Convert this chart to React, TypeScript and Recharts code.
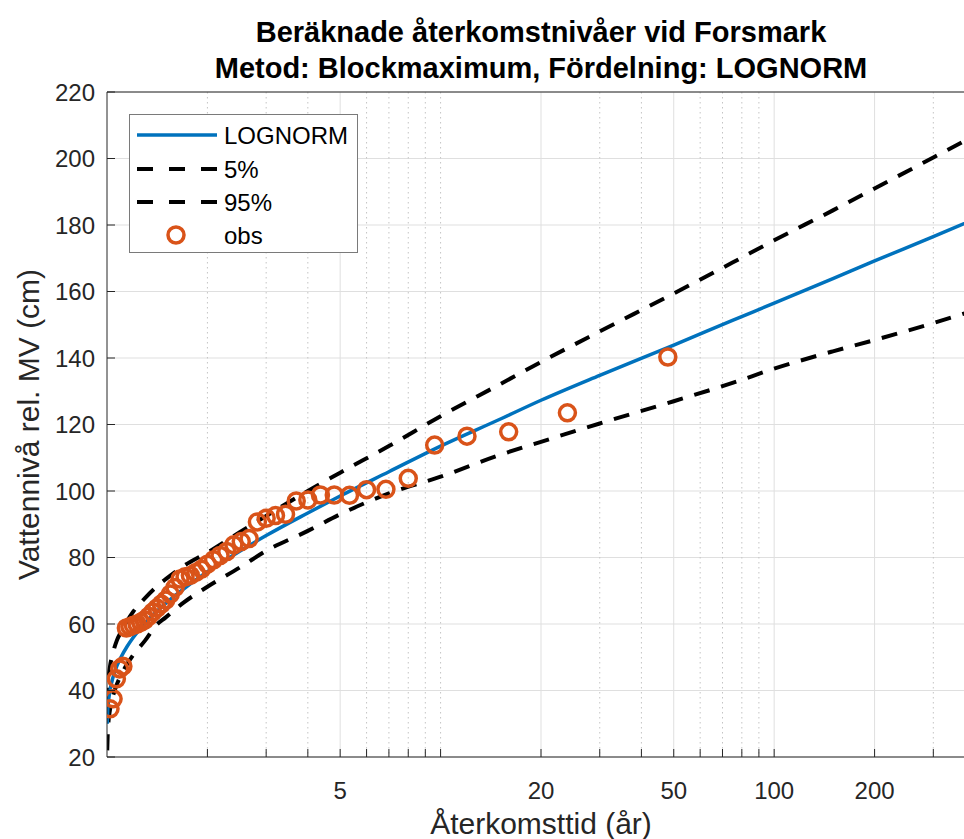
import React from "react";
import {
  ComposedChart,
  Line,
  Scatter,
  XAxis,
  YAxis,
  CartesianGrid,
  Legend,
} from "recharts";

const FONT = "'Liberation Sans', Arial, Helvetica, sans-serif";
const INK = "#262626";
const BLUE = "#0072BD";
const ORANGE = "#D95319";
const GRID = "#dfdfdf";

// return periods (år) where the fitted curves are sampled
const curveT = [
  1.0015, 1.005, 1.01, 1.02, 1.04, 1.07, 1.1, 1.15, 1.2, 1.3, 1.4, 1.5, 1.7, 2,
  2.5, 3, 4, 5, 7, 10, 15, 20, 30, 50, 75, 100, 150, 200, 300, 400,
];
const lognorm = [
  30.0, 33.9, 36.6, 39.8, 43.6, 47.3, 49.9, 53.3, 56.0, 60.2, 63.5, 66.2, 70.6,
  75.7, 81.9, 86.6, 93.4, 98.5, 105.8, 113.5, 121.5, 127.3, 134.8, 143.9, 151.3,
  156.5, 163.9, 169.2, 176.5, 181.8,
];
const ci5 = [
  22, 27, 30.5, 34, 38, 41.8, 44.5, 48, 50.8, 55, 59.5, 62, 66.5, 71.2, 77, 82,
  88, 93, 99.3, 104.3, 110.8, 114.8, 120.3, 127, 132.5, 136.8, 142, 145.4, 150.5,
  154.4,
];
const ci95 = [
  36, 40.5, 43.5, 47, 51, 55, 57.5, 61, 63.8, 67.8, 71, 73.5, 77.5, 81.5, 87.6,
  92.5, 100, 105.5, 113.5, 122.5, 132, 138.8, 148, 159.4, 168.7, 175.4, 184.4,
  191, 200.3, 207,
];

// observed block maxima (cm) and their plotting positions (år)
const obsT = [
  48, 24, 16, 12, 9.6, 8, 6.857, 6, 5.333, 4.8, 4.364, 4, 3.692, 3.429, 3.2, 3,
  2.824, 2.667, 2.526, 2.4, 2.286, 2.182, 2.087, 2, 1.92, 1.846, 1.778, 1.714,
  1.655, 1.6, 1.548, 1.5, 1.455, 1.412, 1.371, 1.333, 1.297, 1.263, 1.231, 1.2,
  1.171, 1.143, 1.116, 1.091, 1.067, 1.043, 1.021,
];
const obsLevel = [
  140.3, 123.5, 117.8, 116.5, 113.8, 103.8, 100.5, 100.4, 98.7, 98.8, 98.8, 97.3,
  97.0, 93.0, 92.6, 91.8, 90.7, 85.7, 84.8, 83.8, 81.8, 80.6, 79.3, 78.0, 76.5,
  75.5, 74.6, 74.2, 73.5, 71.0, 69.0, 67.2, 66.0, 64.8, 63.6, 62.3, 61.2, 60.5,
  60.0, 59.6, 59.2, 58.8, 47.3, 46.5, 43.5, 37.5, 34.5,
];

const majorTicks = [5, 20, 50, 100, 200];
const minorTicks = [2, 3, 4, 6, 7, 8, 9, 10, 30, 40, 60, 70, 80, 90, 300];
const xTicks = [...majorTicks, ...minorTicks].sort((a, b) => a - b);
const yTicks = [20, 40, 60, 80, 100, 120, 140, 160, 180, 200, 220];

const curves = curveT.map((T, i) => ({
  T,
  fit: lognorm[i],
  lo: ci5[i],
  hi: ci95[i],
}));
const obs = obsT.map((T, i) => ({ T, level: obsLevel[i] }));

const BottomTick = ({ x, y, payload }: any) => (
  <g>
    <line x1={x} x2={x} y1={y} y2={y - 8} stroke={INK} />
    {majorTicks.includes(payload.value) && (
      <text x={x} y={y + 42} textAnchor="middle" fontSize={24} fill={INK} fontFamily={FONT}>
        {payload.value}
      </text>
    )}
  </g>
);

const TopTick = ({ x, y }: any) => (
  <line x1={x} x2={x} y1={y} y2={y + 8} stroke={INK} />
);

const LeftTick = ({ x, y, payload }: any) => (
  <g>
    <line x1={x} x2={x + 8} y1={y} y2={y} stroke={INK} />
    <text x={x - 12} y={y + 8.5} textAnchor="end" fontSize={24} fill={INK} fontFamily={FONT}>
      {payload.value}
    </text>
  </g>
);

function LegendBox() {
  const rows = [
    { label: "LOGNORM", y: 21, kind: "solid" },
    { label: "5%", y: 55, kind: "dash" },
    { label: "95%", y: 88, kind: "dash" },
    { label: "obs", y: 121, kind: "circle" },
  ];
  return (
    <svg width={229} height={139} style={{ display: "block" }}>
      <rect x={0.5} y={0.5} width={228} height={138} fill="#fff" stroke="#7a7a7a" />
      {rows.map((r) => (
        <g key={r.label}>
          {r.kind === "solid" && (
            <line x1={8} x2={88} y1={r.y} y2={r.y} stroke={BLUE} strokeWidth={3.5} />
          )}
          {r.kind === "dash" && (
            <line
              x1={8}
              x2={88}
              y1={r.y}
              y2={r.y}
              stroke="#000"
              strokeWidth={4}
              strokeDasharray="16 16"
            />
          )}
          {r.kind === "circle" && (
            <circle cx={47} cy={r.y} r={8} fill="none" stroke={ORANGE} strokeWidth={3.5} />
          )}
          <text x={95} y={r.y + 8.5} fontSize={24} fill="#000" fontFamily={FONT}>
            {r.label}
          </text>
        </g>
      ))}
    </svg>
  );
}

export default function App() {
  return (
    <div
      style={{
        position: "absolute",
        left: 0,
        top: 0,
        width: 964,
        height: 839,
        background: "#fff",
        fontFamily: FONT,
        overflow: "hidden",
      }}
    >
      <div
        style={{
          position: "absolute",
          left: 141,
          top: 14,
          width: 800,
          textAlign: "center",
          fontWeight: "bold",
          fontSize: 29,
          lineHeight: "36px",
          color: "#000",
          whiteSpace: "nowrap",
        }}
      >
        <div>Beräknade återkomstnivåer vid Forsmark</div>
        <div>Metod: Blockmaximum, Fördelning: LOGNORM</div>
      </div>
      <ComposedChart
        width={964}
        height={839}
        data={curves}
        margin={{ top: 91, right: -11, bottom: 81, left: 106 }}
      >
        <CartesianGrid vertical={false} stroke={GRID} />
        <CartesianGrid horizontal={false} verticalValues={majorTicks} stroke={GRID} />
        <CartesianGrid
          horizontal={false}
          verticalValues={minorTicks}
          stroke="#c4c4c4"
          strokeDasharray="1.5 3.5"
        />
        <XAxis
          dataKey="T"
          type="number"
          scale="log"
          domain={[1, 400]}
          allowDataOverflow
          ticks={xTicks}
          interval={0}
          height={1}
          tickSize={0}
          tickMargin={0}
          tickLine={false}
          axisLine={{ stroke: INK }}
          tick={<BottomTick />}
          label={({ viewBox }: any) => (
            <text
              x={viewBox.x + viewBox.width / 2}
              y={viewBox.y + 77}
              textAnchor="middle"
              fontSize={30}
              fill={INK}
              fontFamily={FONT}
            >
              Återkomsttid (år)
            </text>
          )}
        />
        <XAxis
          xAxisId="top"
          orientation="top"
          type="number"
          scale="log"
          domain={[1, 400]}
          allowDataOverflow
          ticks={xTicks}
          interval={0}
          height={1}
          tickSize={0}
          tickMargin={0}
          tickLine={false}
          axisLine={{ stroke: INK }}
          tick={<TopTick />}
        />
        <YAxis
          type="number"
          domain={[20, 220]}
          allowDataOverflow
          ticks={yTicks}
          interval={0}
          width={1}
          tickSize={0}
          tickMargin={0}
          tickLine={false}
          axisLine={{ stroke: INK }}
          tick={<LeftTick />}
          label={({ viewBox }: any) => {
            const cx = viewBox.x - 78;
            const cy = viewBox.y + viewBox.height / 2;
            return (
              <text
                x={cx}
                y={cy}
                transform={`rotate(-90, ${cx}, ${cy})`}
                textAnchor="middle"
                dominantBaseline="central"
                fontSize={30}
                fill={INK}
                fontFamily={FONT}
              >
                Vattennivå rel. MV (cm)
              </text>
            );
          }}
        />
        <Line
          dataKey="hi"
          type="monotone"
          stroke="#000"
          strokeWidth={4}
          strokeDasharray="16 12"
          dot={false}
          activeDot={false}
          isAnimationActive={false}
        />
        <Line
          dataKey="lo"
          type="monotone"
          stroke="#000"
          strokeWidth={4}
          strokeDasharray="16 12"
          dot={false}
          activeDot={false}
          isAnimationActive={false}
        />
        <Line
          dataKey="fit"
          type="monotone"
          stroke={BLUE}
          strokeWidth={3.5}
          dot={false}
          activeDot={false}
          isAnimationActive={false}
        />
        <Scatter
          data={obs}
          dataKey="level"
          isAnimationActive={false}
          shape={(p: any) => (
            <circle cx={p.cx} cy={p.cy} r={8} fill="none" stroke={ORANGE} strokeWidth={3.5} />
          )}
        />
        <Legend
          layout="horizontal"
          verticalAlign="middle"
          align="center"
          content={() => <LegendBox />}
          wrapperStyle={{ left: 129, top: 114, width: 229, height: 139 }}
        />
      </ComposedChart>
    </div>
  );
}
